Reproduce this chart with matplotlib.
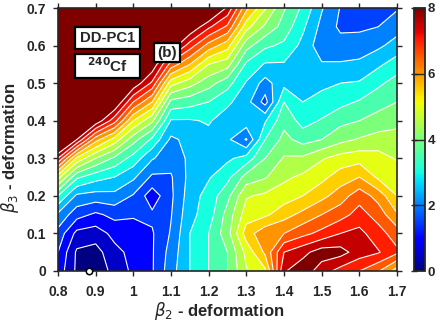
import numpy as np
import matplotlib
matplotlib.use('Agg')
import matplotlib.pyplot as plt
from matplotlib import cm
from matplotlib.colors import Normalize

plt.rcParams['font.family'] = ['Liberation Sans', 'DejaVu Sans']
plt.rcParams['mathtext.fontset'] = 'dejavusans'

beta2 = [0.80, 0.85, 0.90, 0.95, 1.00, 1.05, 1.10, 1.15, 1.20, 1.25,
         1.30, 1.35, 1.40, 1.45, 1.50, 1.55, 1.60, 1.65, 1.70]
beta3 = [0, 0.05, 0.1, 0.15, 0.2, 0.25, 0.3, 0.35, 0.4, 0.45, 0.5, 0.55, 0.6, 0.65, 0.7]

# energy along each beta2 column, beta3 going up
col_080 = [1.3, 1.5, 1.83, 2.4, 3.5, 5.2, 7.5, 9.5, 10, 10, 10, 10, 10, 10, 10]
col_085 = [0.4, 0.42, 0.85, 1.7, 2.4, 3.6, 5.4, 8, 10, 10, 10, 10, 10, 10, 10]
col_090 = [0.1, 0.3, 0.75, 1.4, 2.3, 3.2, 4.5, 6.2, 8.4, 10, 10, 10, 10, 10, 10]
col_095 = [0.7, 0.85, 1.15, 1.65, 2.35, 3.0, 3.9, 5.3, 7.2, 8.6, 10, 10, 10, 10, 10]
col_100 = [1.1, 1.15, 1.3, 1.55, 1.95, 2.6, 3.3, 4.2, 5.5, 7, 8.4, 10, 10, 10, 10]
col_105 = [1.45, 1.45, 1.45, 1.6, 1.2, 1.9, 2.55, 3.4, 4.6, 6, 7.4, 8.4, 10, 10, 10]
col_110 = [2.3, 2.2, 2.05, 1.97, 1.9, 1.95, 2.2, 2.4, 2.95, 3.85, 5.2, 6.8, 8.4, 10, 10]
col_115 = [3, 3, 3, 2.85, 2.75, 2.65, 2.6, 2.65, 2.95, 3.7, 4.7, 6, 7.25, 8.5, 10]
col_120 = [3.5, 3.5, 3.5, 3.25, 3.2, 2.95, 2.8, 2.85, 3.05, 3.5, 4.2, 5, 6.3, 7.6, 9]
col_125 = [4, 4, 4.3, 4.2, 3.85, 3.35, 2.9, 2.6, 2.75, 3.1, 3.7, 4.7, 5.7, 6.9, 7.9]
col_130 = [4.95, 5.15, 5.75, 5.25, 4.95, 4.2, 3.2, 1.95, 2.8, 2.7, 2.95, 3.4, 4.2, 5.2, 6.15]
col_135 = [5.4, 6.1, 6.35, 5.4, 5.1, 4.45, 4, 3.5, 2.95, 1.8, 2.3, 2.95, 3.6, 4.4, 5.05]
col_140 = [7.95, 7.5, 6.5, 5.8, 5.25, 4.9, 4.55, 4.15, 3.85, 3.5, 2.85, 2.95, 3.4, 3.8, 4.05]
col_145 = [8.3, 7.85, 6.85, 6.15, 5.5, 5.1, 4.6, 3.8, 3.3, 3, 2.85, 2.8, 2.85, 3.1, 3.4]
col_150 = [7.75, 8.25, 7.15, 6.5, 5.85, 5.35, 4.95, 4, 3.55, 3.15, 2.9, 2.55, 2.2, 2.35, 2.55]
col_155 = [7.3, 8.2, 7.5, 6.8, 6.25, 5.75, 5.2, 4.35, 3.85, 3.35, 3, 2.55, 2.2, 1.9, 1.97]
col_160 = [7, 7.75, 7.65, 7.2, 6.8, 6, 5.3, 4.55, 4, 3.55, 3.05, 2.6, 2.25, 1.9, 1.75]
col_165 = [6.55, 7.55, 7.2, 6.8, 6.3, 5.4, 5.2, 4.7, 4.2, 3.8, 3.4, 2.9, 2.4, 2, 1.7]
col_170 = [5.75, 7.1, 6.75, 6.05, 5.5, 5.25, 4.95, 4.7, 4.35, 4, 3.7, 3.25, 2.7, 2.3, 1.95]

energy = np.array([col_080, col_085, col_090, col_095, col_100, col_105, col_110,
                   col_115, col_120, col_125, col_130, col_135, col_140, col_145,
                   col_150, col_155, col_160, col_165, col_170]).T

levels = [0, 0.5, 1, 1.5, 2, 2.5, 3, 3.5, 4, 4.5, 5, 5.5, 6, 6.5, 7, 7.5, 8]
min_b2, min_b3 = 0.883, 0
xticks = [0.8, 0.9, 1, 1.1, 1.2, 1.3, 1.4, 1.5, 1.6, 1.7]
xticklabels = ['0.8', '0.9', '1', '1.1', '1.2', '1.3', '1.4', '1.5', '1.6', '1.7']
yticks = [0, 0.1, 0.2, 0.3, 0.4, 0.5, 0.6, 0.7]
yticklabels = ['0', '0.1', '0.2', '0.3', '0.4', '0.5', '0.6', '0.7']
cbar_ticks = [0, 2, 4, 6, 8]
cbar_labels = ['0', '2', '4', '6', '8']

dark = '#262626'
W, H = 436, 325
fig = plt.figure(figsize=(W / 100, H / 100), dpi=100)
ax = fig.add_axes([58 / W, 1 - 271 / H, 339 / W, 263 / H])

# each band takes the colour of its lower level
norm = Normalize(0, 8)
band_colors = [cm.jet(norm(l)) for l in levels]
band_colors[-1] = (0.5, 0, 0, 1)
ax.contourf(beta2, beta3, energy, levels=levels + [100], colors=band_colors)
ax.contour(beta2, beta3, energy, levels=levels[1:], colors='white', linewidths=0.8)
ax.plot(min_b2, min_b3, 'o', ms=4.6, mfc='white', mec='black', mew=1.1, clip_on=False, zorder=5)

ax.set_xlim(0.8, 1.7)
ax.set_ylim(0, 0.7)
ax.set_xticks(xticks, xticklabels)
ax.set_yticks(yticks, yticklabels)
ax.tick_params(direction='out', length=3.8, width=1, color=dark, top=True, right=True,
               labelsize=10, labelcolor=dark)
ax.tick_params(axis='x', pad=6)
ax.tick_params(axis='y', pad=5)
for lab in ax.get_xticklabels() + ax.get_yticklabels():
    lab.set_fontweight('bold')
for sp in ax.spines.values():
    sp.set_linewidth(1.2)
    sp.set_color(dark)

ax.set_xlabel(r'$\beta_2$ - deformation', fontsize=12, fontweight='bold', color=dark)
ax.set_ylabel(r'$\beta_3$ - deformation', fontsize=12, fontweight='bold', color=dark)
ax.xaxis.set_label_coords(0.476, -0.112)
ax.yaxis.set_label_coords(-0.108, 0.47)

fig.patches.extend([
    plt.Rectangle((75 / W, 1 - 49 / H), 65 / W, 22 / H, transform=fig.transFigure, fc='white', ec='black', lw=1.6, zorder=6),
    plt.Rectangle((75 / W, 1 - 78 / H), 65 / W, 24 / H, transform=fig.transFigure, fc='white', ec='black', lw=1.6, zorder=6),
    plt.Rectangle((154 / W, 1 - 62 / H), 26 / W, 19 / H, transform=fig.transFigure, fc='white', ec='black', lw=1.6, zorder=6),
])
fig.text(107.5 / W, 1 - 38.5 / H, 'DD-PC1', ha='center', va='center', fontsize=10.7, fontweight='bold', color=dark, zorder=7)
fig.text(107.5 / W, 1 - 66 / H, r'$\mathbf{^{240}}$Cf', ha='center', va='center', fontsize=11, fontweight='bold', color=dark, zorder=7)
fig.text(167 / W, 1 - 52.5 / H, '(b)', ha='center', va='center', fontsize=11, fontweight='bold', color=dark, zorder=7)

cax = fig.add_axes([414 / W, 1 - 271 / H, 11 / W, 263 / H])
cb = fig.colorbar(cm.ScalarMappable(norm=norm, cmap='jet'), cax=cax)
cb.set_ticks(cbar_ticks, labels=cbar_labels)
cb.outline.set_linewidth(1.3)
cb.outline.set_edgecolor(dark)
cax.hlines(cbar_ticks[1:-1], 0, 1, transform=cax.get_yaxis_transform(), color=dark, lw=1)
cax.tick_params(left=True, right=False, labelleft=False, labelright=True, direction='inout',
                length=4, width=1, color=dark, labelsize=9.5, labelcolor=dark, pad=0)
for lab in cax.get_yticklabels():
    lab.set_fontweight('bold')

fig.savefig('out.png', dpi=100)
